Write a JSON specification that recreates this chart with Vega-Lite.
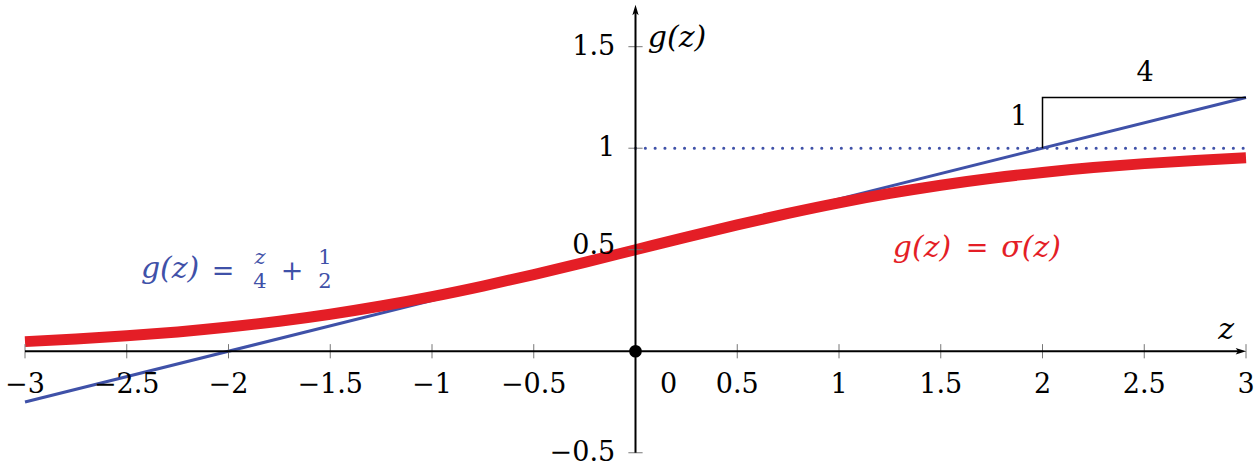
{
  "$schema": "https://vega.github.io/schema/vega-lite/v6.json",
  "width": 1221,
  "height": 469,
  "autosize": "none",
  "padding": {"left": 25, "right": 14, "top": 0, "bottom": 0},
  "background": "white",
  "config": {"view": {"stroke": null}},
  "datasets": {
    "sig": [
      {"z": -3, "g": 0.0474}, {"z": -2.75, "g": 0.0601}, {"z": -2.5, "g": 0.0759}, {"z": -2.25, "g": 0.0953},
      {"z": -2, "g": 0.1192}, {"z": -1.75, "g": 0.148}, {"z": -1.5, "g": 0.1824}, {"z": -1.25, "g": 0.2227},
      {"z": -1, "g": 0.2689}, {"z": -0.75, "g": 0.3208}, {"z": -0.5, "g": 0.3775}, {"z": -0.25, "g": 0.4378},
      {"z": 0, "g": 0.5}, {"z": 0.25, "g": 0.5622}, {"z": 0.5, "g": 0.6225}, {"z": 0.75, "g": 0.6792},
      {"z": 1, "g": 0.7311}, {"z": 1.25, "g": 0.7773}, {"z": 1.5, "g": 0.8176}, {"z": 1.75, "g": 0.852},
      {"z": 2, "g": 0.8808}, {"z": 2.25, "g": 0.9047}, {"z": 2.5, "g": 0.9241}, {"z": 2.75, "g": 0.9399},
      {"z": 3, "g": 0.9526}
    ],
    "tan": [{"z": -3, "g": -0.25}, {"z": 3, "g": 1.25}],
    "dot": [{"z": 0, "g": 1}, {"z": 3, "g": 1}],
    "tri": [{"z": 2, "g": 1, "o": 1}, {"z": 2, "g": 1.25, "o": 2}, {"z": 3, "g": 1.25, "o": 3}],
    "xaxis": [{"z": -3, "z2": 2.975, "g": 0}],
    "yaxis": [{"z": 0, "g": -0.5, "g2": 1.68}],
    "xarrow": [{"z": 2.975, "g": 0}],
    "yarrow": [{"z": 0, "g": 1.681}],
    "origin": [{"z": 0, "g": 0}],
    "xticks": [{"z": -3}, {"z": -2.5}, {"z": -2}, {"z": -1.5}, {"z": -1}, {"z": -0.5}, {"z": 0.5}, {"z": 1}, {"z": 1.5}, {"z": 2}, {"z": 2.5}, {"z": 3}],
    "yticks": [{"g": -0.5}, {"g": 0.5}, {"g": 1}, {"g": 1.5}],
    "ylabels": [
      {"z": -0.1, "g": 1.5, "t": "1.5"}, {"z": -0.1, "g": 1, "t": "1"},
      {"z": -0.1, "g": 0.52, "t": "0.5"}, {"z": -0.1, "g": -0.5, "t": "−0.5"}
    ],
    "upright": [
      {"z": -3, "g": -0.166, "t": "−3", "c": "k"}, {"z": -2.5, "g": -0.166, "t": "−2.5", "c": "k"},
      {"z": -2, "g": -0.166, "t": "−2", "c": "k"}, {"z": -1.5, "g": -0.166, "t": "−1.5", "c": "k"},
      {"z": -1, "g": -0.166, "t": "−1", "c": "k"}, {"z": -0.5, "g": -0.166, "t": "−0.5", "c": "k"},
      {"z": 0.163, "g": -0.166, "t": "0", "c": "k"}, {"z": 0.5, "g": -0.166, "t": "0.5", "c": "k"},
      {"z": 1, "g": -0.166, "t": "1", "c": "k"}, {"z": 1.5, "g": -0.166, "t": "1.5", "c": "k"},
      {"z": 2, "g": -0.166, "t": "2", "c": "k"}, {"z": 2.5, "g": -0.166, "t": "2.5", "c": "k"},
      {"z": 3, "g": -0.166, "t": "3", "c": "k"},
      {"z": 1.884, "g": 1.154, "t": "1", "c": "k"}, {"z": 2.504, "g": 1.37, "t": "4", "c": "k"},
      {"z": -2.027, "g": 0.39, "t": "=", "c": "b"}, {"z": -1.688, "g": 0.39, "t": "+", "c": "b"},
      {"z": 1.678, "g": 0.505, "t": "=", "c": "r"}
    ],
    "italic": [
      {"z": 0.204, "g": 1.543, "t": "g(z)", "c": "k"}, {"z": 2.902, "g": 0.104, "t": "z", "c": "k"},
      {"z": -2.287, "g": 0.405, "t": "g(z)", "c": "b"}, {"z": 1.408, "g": 0.508, "t": "g(z)", "c": "r"},
      {"z": 1.944, "g": 0.508, "t": "σ(z)", "c": "r"}
    ],
    "smallup": [{"z": -1.845, "g": 0.341, "t": "4"}, {"z": -1.526, "g": 0.459, "t": "1"}, {"z": -1.526, "g": 0.341, "t": "2"}],
    "smallit": [{"z": -1.845, "g": 0.459, "t": "z"}]
  },
  "layer": [
    {
      "data": {"name": "tan"},
      "mark": {"type": "line", "color": "#3f51a8", "strokeWidth": 3},
      "encoding": {
        "x": {"field": "z", "type": "quantitative", "scale": {"domain": [-3, 3], "nice": false, "zero": false}, "axis": null},
        "y": {"field": "g", "type": "quantitative", "scale": {"domain": [-0.58, 1.73], "nice": false, "zero": false}, "axis": null}
      }
    },
    {
      "data": {"name": "sig"},
      "mark": {"type": "line", "color": "#e41e26", "strokeWidth": 11, "interpolate": "monotone", "strokeCap": "butt"},
      "encoding": {
        "x": {"field": "z", "type": "quantitative", "scale": {"domain": [-3, 3], "nice": false, "zero": false}, "axis": null},
        "y": {"field": "g", "type": "quantitative", "scale": {"domain": [-0.58, 1.73], "nice": false, "zero": false}, "axis": null}
      }
    },
    {
      "data": {"name": "tri"},
      "mark": {"type": "line", "color": "#000000", "strokeWidth": 1.5},
      "encoding": {
        "x": {"field": "z", "type": "quantitative", "scale": {"domain": [-3, 3], "nice": false, "zero": false}, "axis": null},
        "y": {"field": "g", "type": "quantitative", "scale": {"domain": [-0.58, 1.73], "nice": false, "zero": false}, "axis": null},
        "order": {"field": "o"}
      }
    },
    {
      "data": {"name": "dot"},
      "mark": {"type": "line", "color": "#3f51a8", "strokeWidth": 3, "strokeDash": [0.1, 9.7], "strokeCap": "round"},
      "encoding": {
        "x": {"field": "z", "type": "quantitative", "scale": {"domain": [-3, 3], "nice": false, "zero": false}, "axis": null},
        "y": {"field": "g", "type": "quantitative", "scale": {"domain": [-0.58, 1.73], "nice": false, "zero": false}, "axis": null}
      }
    },
    {
      "data": {"name": "xticks"},
      "mark": {"type": "rule", "color": "#777777", "strokeWidth": 1},
      "encoding": {
        "x": {"field": "z", "type": "quantitative", "scale": {"domain": [-3, 3], "nice": false, "zero": false}, "axis": null},
        "y": {"datum": -0.035, "type": "quantitative", "scale": {"domain": [-0.58, 1.73], "nice": false, "zero": false}, "axis": null},
        "y2": {"datum": 0.035}
      }
    },
    {
      "data": {"name": "yticks"},
      "mark": {"type": "rule", "color": "#777777", "strokeWidth": 1},
      "encoding": {
        "y": {"field": "g", "type": "quantitative", "scale": {"domain": [-0.58, 1.73], "nice": false, "zero": false}, "axis": null},
        "x": {"datum": -0.035, "type": "quantitative", "scale": {"domain": [-3, 3], "nice": false, "zero": false}, "axis": null},
        "x2": {"datum": 0.035}
      }
    },
    {
      "data": {"name": "xaxis"},
      "mark": {"type": "rule", "color": "#000000", "strokeWidth": 2},
      "encoding": {
        "x": {"field": "z", "type": "quantitative", "scale": {"domain": [-3, 3], "nice": false, "zero": false}, "axis": null},
        "x2": {"field": "z2"},
        "y": {"field": "g", "type": "quantitative", "scale": {"domain": [-0.58, 1.73], "nice": false, "zero": false}, "axis": null}
      }
    },
    {
      "data": {"name": "yaxis"},
      "mark": {"type": "rule", "color": "#000000", "strokeWidth": 2},
      "encoding": {
        "x": {"field": "z", "type": "quantitative", "scale": {"domain": [-3, 3], "nice": false, "zero": false}, "axis": null},
        "y": {"field": "g", "type": "quantitative", "scale": {"domain": [-0.58, 1.73], "nice": false, "zero": false}, "axis": null},
        "y2": {"field": "g2"}
      }
    },
    {
      "data": {"name": "xarrow"},
      "mark": {"type": "point", "shape": "M 1 0 L -1 -0.6 L -0.55 0 L -1 0.6 Z", "size": 110, "filled": true, "color": "#000000", "opacity": 1},
      "encoding": {
        "x": {"field": "z", "type": "quantitative", "scale": {"domain": [-3, 3], "nice": false, "zero": false}, "axis": null},
        "y": {"field": "g", "type": "quantitative", "scale": {"domain": [-0.58, 1.73], "nice": false, "zero": false}, "axis": null}
      }
    },
    {
      "data": {"name": "yarrow"},
      "mark": {"type": "point", "shape": "M 0 -1 L -0.6 1 L 0 0.55 L 0.6 1 Z", "size": 110, "filled": true, "color": "#000000", "opacity": 1},
      "encoding": {
        "x": {"field": "z", "type": "quantitative", "scale": {"domain": [-3, 3], "nice": false, "zero": false}, "axis": null},
        "y": {"field": "g", "type": "quantitative", "scale": {"domain": [-0.58, 1.73], "nice": false, "zero": false}, "axis": null}
      }
    },
    {
      "data": {"name": "origin"},
      "mark": {"type": "circle", "size": 160, "color": "#000000", "opacity": 1},
      "encoding": {
        "x": {"field": "z", "type": "quantitative", "scale": {"domain": [-3, 3], "nice": false, "zero": false}, "axis": null},
        "y": {"field": "g", "type": "quantitative", "scale": {"domain": [-0.58, 1.73], "nice": false, "zero": false}, "axis": null}
      }
    },
    {
      "data": {"name": "ylabels"},
      "mark": {"type": "text", "font": "DejaVu Serif", "fontSize": 27, "align": "right", "baseline": "middle", "color": "#000000"},
      "encoding": {
        "x": {"field": "z", "type": "quantitative", "scale": {"domain": [-3, 3], "nice": false, "zero": false}, "axis": null},
        "y": {"field": "g", "type": "quantitative", "scale": {"domain": [-0.58, 1.73], "nice": false, "zero": false}, "axis": null},
        "text": {"field": "t"}
      }
    },
    {
      "data": {"name": "upright"},
      "mark": {"type": "text", "font": "DejaVu Serif", "fontSize": 27, "align": "center", "baseline": "middle"},
      "encoding": {
        "x": {"field": "z", "type": "quantitative", "scale": {"domain": [-3, 3], "nice": false, "zero": false}, "axis": null},
        "y": {"field": "g", "type": "quantitative", "scale": {"domain": [-0.58, 1.73], "nice": false, "zero": false}, "axis": null},
        "text": {"field": "t"},
        "color": {"field": "c", "type": "nominal", "scale": {"domain": ["k", "b", "r"], "range": ["#000000", "#3f51a8", "#e41e26"]}, "legend": null}
      }
    },
    {
      "data": {"name": "italic"},
      "mark": {"type": "text", "font": "DejaVu Serif", "fontSize": 30, "fontStyle": "italic", "align": "center", "baseline": "middle"},
      "encoding": {
        "x": {"field": "z", "type": "quantitative", "scale": {"domain": [-3, 3], "nice": false, "zero": false}, "axis": null},
        "y": {"field": "g", "type": "quantitative", "scale": {"domain": [-0.58, 1.73], "nice": false, "zero": false}, "axis": null},
        "text": {"field": "t"},
        "color": {"field": "c", "type": "nominal", "scale": {"domain": ["k", "b", "r"], "range": ["#000000", "#3f51a8", "#e41e26"]}, "legend": null}
      }
    },
    {
      "data": {"name": "smallup"},
      "mark": {"type": "text", "font": "DejaVu Serif", "fontSize": 21, "align": "center", "baseline": "middle", "color": "#3f51a8"},
      "encoding": {
        "x": {"field": "z", "type": "quantitative", "scale": {"domain": [-3, 3], "nice": false, "zero": false}, "axis": null},
        "y": {"field": "g", "type": "quantitative", "scale": {"domain": [-0.58, 1.73], "nice": false, "zero": false}, "axis": null},
        "text": {"field": "t"}
      }
    },
    {
      "data": {"name": "smallit"},
      "mark": {"type": "text", "font": "DejaVu Serif", "fontSize": 21, "fontStyle": "italic", "align": "center", "baseline": "middle", "color": "#3f51a8"},
      "encoding": {
        "x": {"field": "z", "type": "quantitative", "scale": {"domain": [-3, 3], "nice": false, "zero": false}, "axis": null},
        "y": {"field": "g", "type": "quantitative", "scale": {"domain": [-0.58, 1.73], "nice": false, "zero": false}, "axis": null},
        "text": {"field": "t"}
      }
    }
  ]
}
